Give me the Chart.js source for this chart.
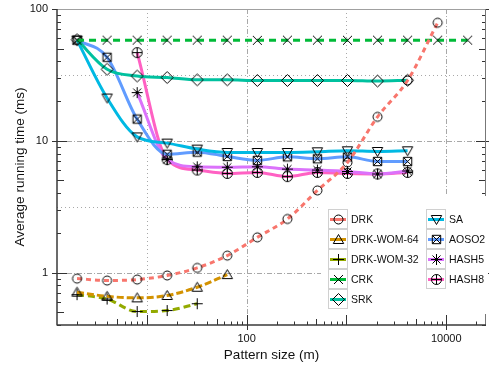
<!DOCTYPE html>
<html>
<head>
<meta charset="utf-8">
<script src="https://cdn.jsdelivr.net/npm/chart.js@4.4.1/dist/chart.umd.min.js"></script>
<style>
  body { margin: 0; background: #ffffff; }
  canvas { display: block; }
</style>
</head>
<body>
<canvas id="chart" width="495" height="368"></canvas>
<script>
Chart.defaults.font.family = '"Liberation Sans", Arial, Helvetica, sans-serif';
Chart.defaults.color = '#111111';

// pattern sizes (m)
const patternSizes = [2, 4, 8, 16, 32, 64, 128, 256, 512, 1024, 2048, 4096, 8192, 16384];

// average running time (ms), null = not measured
const drk       = [0.9, 0.87, 0.885, 0.95, 1.085, 1.345, 1.85, 2.55, 4.2, 6.85, 15.2, 28.7, 78.7, null];
const drkWom64  = [0.71, 0.66, 0.643, 0.67, 0.774, 0.965, null, null, null, null, null, null, null, null];
const drkWom32  = [0.68, 0.63, 0.506, 0.515, 0.58, null, null, null, null, null, null, null, null, null];
const crk       = [58, 58, 58, 58, 58, 58, 57.8, 58, 58, 57.9, 58, 58, 58, 58];
const srk       = [58.5, 34.9, 31, 30.2, 29, 29, 28.7, 28.7, 28.7, 28.7, 28.4, 28.8, null, null];
const sa        = [58, 21.1, 10.7, 9.6, 8.65, 8.15, 8.15, 8.15, 8.25, 8.4, 8.3, 8.4, null, null];
const aoso2     = [58, 43, 14.6, 7.9, 8.2, 7.6, 7.1, 7.55, 7.3, 7.55, 6.97, 6.97, null, null];
const hash5     = [null, null, 23.2, 7.2, 6.35, 6.3, 6.35, 6.1, 6.0, 5.85, 5.6, 5.9, null, null];
const hash8     = [null, null, 46.7, 7.2, 6.0, 5.65, 5.75, 5.35, 5.75, 5.65, 5.6, 5.75, null, null];

const seriesNames  = ['DRK', 'DRK-WOM-64', 'DRK-WOM-32', 'CRK', 'SRK', 'SA', 'AOSO2', 'HASH5', 'HASH8'];
const seriesValues = [drk, drkWom64, drkWom32, crk, srk, sa, aoso2, hash5, hash8];
const seriesColors = ['#F8766D', '#D39200', '#93AA00', '#00BA38', '#00C19F', '#00B9E3', '#619CFF', '#DB72FB', '#FF61C3'];
const seriesDashes = [[5, 4], [7, 3], [7, 4], [7, 5], [], [], [], [], []];
const seriesMarkers = ['circle', 'triangle', 'plus', 'cross', 'diamond', 'triangleDown', 'squareCross', 'asterisk', 'circlePlus'];

// axis labels and grid
const xTickLabels = [100, 10000];
const yTickLabels = [1, 10, 100];
const xGridDotted = [10, 1000];
const yGridDotted = [3.16, 31.6];

function makeMarker(kind) {
  const c = document.createElement('canvas');
  c.width = 15;
  c.height = 15;
  const g = c.getContext('2d');
  g.translate(7.5, 7.5);
  g.strokeStyle = '#000000';
  g.lineWidth = 1;
  g.beginPath();
  switch (kind) {
    case 'circle':
      g.arc(0, 0, 4.5, 0, Math.PI * 2);
      break;
    case 'triangle':
      g.moveTo(0, -5); g.lineTo(5.2, 4); g.lineTo(-5.2, 4); g.closePath();
      break;
    case 'triangleDown':
      g.moveTo(0, 5); g.lineTo(5.2, -4); g.lineTo(-5.2, -4); g.closePath();
      break;
    case 'plus':
      g.moveTo(-5.5, 0); g.lineTo(5.5, 0); g.moveTo(0, -5.5); g.lineTo(0, 5.5);
      break;
    case 'cross':
      g.moveTo(-4.5, -4.5); g.lineTo(4.5, 4.5); g.moveTo(4.5, -4.5); g.lineTo(-4.5, 4.5);
      break;
    case 'diamond':
      g.moveTo(0, -6); g.lineTo(6, 0); g.lineTo(0, 6); g.lineTo(-6, 0); g.closePath();
      break;
    case 'squareCross':
      g.rect(-4.2, -4.2, 8.4, 8.4);
      g.moveTo(-4.2, -4.2); g.lineTo(4.2, 4.2); g.moveTo(4.2, -4.2); g.lineTo(-4.2, 4.2);
      break;
    case 'asterisk':
      g.moveTo(-5.5, 0); g.lineTo(5.5, 0); g.moveTo(0, -5.5); g.lineTo(0, 5.5);
      g.moveTo(-4, -4); g.lineTo(4, 4); g.moveTo(4, -4); g.lineTo(-4, 4);
      break;
    case 'circlePlus':
      g.arc(0, 0, 5, 0, Math.PI * 2);
      g.moveTo(-5, 0); g.lineTo(5, 0); g.moveTo(0, -5); g.lineTo(0, 5);
      break;
  }
  g.stroke();
  return c;
}

const markerImages = seriesMarkers.map(makeMarker);

function line(ctx, x1, y1, x2, y2) {
  ctx.beginPath();
  ctx.moveTo(x1, y1);
  ctx.lineTo(x2, y2);
  ctx.stroke();
}

function minorValues(min, max) {
  const out = [];
  for (let d = 0.1; d <= 100000; d *= 10) {
    for (let m = 1; m <= 9; m++) {
      const v = Math.round(m * d * 1000) / 1000;
      if (v >= min && v <= max) out.push({ v: v, m: m });
    }
  }
  return out;
}

const framePlugin = {
  id: 'frame',
  beforeDatasetsDraw(chart) {
    const { ctx, chartArea: a, scales: { x, y } } = chart;
    ctx.save();
    ctx.lineWidth = 1;
    ctx.strokeStyle = '#a8a8a8';
    xTickLabels.concat(xGridDotted).forEach(v => {
      const px = Math.round(x.getPixelForValue(v)) + 0.5;
      ctx.setLineDash(xGridDotted.includes(v) ? [1, 3] : [5, 2, 1, 2]);
      line(ctx, px, a.top, px, a.bottom);
    });
    yTickLabels.concat(yGridDotted).forEach(v => {
      const py = Math.round(y.getPixelForValue(v)) + 0.5;
      ctx.setLineDash(yGridDotted.includes(v) ? [1, 3] : [5, 2, 1, 2]);
      line(ctx, a.left, py, a.right, py);
    });
    ctx.restore();
  },
  afterDatasetsDraw(chart) {
    const { ctx, chartArea: a, scales: { x, y } } = chart;
    ctx.save();
    ctx.setLineDash([]);
    ctx.lineWidth = 1;
    ctx.strokeStyle = '#333333';
    // inward ticks on bottom axis
    minorValues(x.min, x.max).forEach(t => {
      const px = Math.round(x.getPixelForValue(t.v)) + 0.5;
      if (xTickLabels.includes(t.v)) line(ctx, px, a.bottom + 5, px, a.bottom - 10);
      else if (t.m === 1) line(ctx, px, a.bottom, px, a.bottom - 10);
      else line(ctx, px, a.bottom, px, a.bottom - (t.m === 5 ? 6 : 3.5));
    });
    // inward ticks on left and right axes
    minorValues(y.min, y.max).forEach(t => {
      const py = Math.round(y.getPixelForValue(t.v)) + 0.5;
      const len = t.m === 1 ? 10 : (t.m === 5 ? 7 : 4);
      line(ctx, t.m === 1 ? a.left - 5 : a.left, py, a.left + len, py);
      line(ctx, t.m === 1 ? a.right + 3 : a.right, py, a.right - len, py);
    });
    ctx.strokeStyle = '#a0a0a0';
    line(ctx, a.left, a.top + 0.5, a.right, a.top + 0.5);
    ctx.strokeStyle = '#777777';
    line(ctx, a.right - 0.5, a.top, a.right - 0.5, a.bottom);
    ctx.strokeStyle = '#3a3a3a';
    ctx.lineWidth = 1.5;
    line(ctx, a.left, a.top, a.left, a.bottom + 0.5);
    line(ctx, a.left, a.bottom, a.right, a.bottom);
    ctx.restore();
  },
  afterDraw(chart) {
    const ctx = chart.ctx;
    ctx.save();
    ctx.fillStyle = '#ffffff';
    ctx.fillRect(321, 196, 167, 118);
    ctx.font = '10.5px "Liberation Sans", Arial, sans-serif';
    ctx.textBaseline = 'middle';
    chart.data.datasets.forEach((ds, i) => {
      const col = i < 5 ? 0 : 1;
      const row = i < 5 ? i : i - 5;
      const bx = col ? 426 : 328;
      const by = 209 + row * 20;
      ctx.setLineDash([]);
      ctx.lineWidth = 1;
      ctx.strokeStyle = '#d0d0d0';
      ctx.strokeRect(bx + 0.5, by + 0.5, 19, 19);
      ctx.lineWidth = 3;
      ctx.strokeStyle = ds.borderColor;
      line(ctx, bx + 2, by + 10.5, bx + 18, by + 10.5);
      ctx.drawImage(markerImages[i], bx + 3, by + 3);
      ctx.fillStyle = '#111111';
      ctx.fillText(ds.label, bx + 23, by + 11);
    });
    ctx.restore();
  }
};

const datasets = seriesNames.map((name, i) => ({
  label: name,
  data: patternSizes
    .map((s, j) => ({ x: s, y: seriesValues[i][j] }))
    .filter(p => p.y !== null),
  borderColor: seriesColors[i],
  backgroundColor: seriesColors[i],
  borderWidth: 3,
  borderDash: seriesDashes[i],
  pointStyle: markerImages[i],
  pointRadius: 6,
  cubicInterpolationMode: 'monotone',
  fill: false
}));

// grid drawn by the plugin; Chart.js grid kept only for the label offset
const hiddenGrid = {
  display: true,
  drawOnChartArea: false,
  drawTicks: true,
  color: 'rgba(0,0,0,0)',
  tickColor: 'rgba(0,0,0,0)'
};

new Chart(document.getElementById('chart'), {
  type: 'line',
  data: { datasets: datasets },
  plugins: [framePlugin],
  options: {
    responsive: false,
    animation: false,
    layout: { padding: { top: 8, right: 3, left: 0, bottom: 0 } },
    plugins: {
      legend: { display: false },
      tooltip: { enabled: false }
    },
    scales: {
      x: {
        type: 'logarithmic',
        min: 1.26,
        max: 25000,
        grid: Object.assign({}, hiddenGrid, { tickLength: 7 }),
        border: { display: false },
        afterBuildTicks: s => { s.ticks = xTickLabels.map(v => ({ value: v })); },
        afterFit: s => { s.height = 43; },
        ticks: {
          autoSkip: false,
          maxRotation: 0,
          padding: 0,
          color: '#111111',
          font: { size: 11 },
          callback: v => String(v)
        },
        title: {
          display: true,
          text: 'Pattern size (m)',
          color: '#111111',
          font: { size: 13.5 },
          padding: { top: 0, bottom: 5 }
        }
      },
      y: {
        type: 'logarithmic',
        min: 0.4,
        max: 100,
        grid: Object.assign({}, hiddenGrid, { tickLength: 9 }),
        border: { display: false },
        afterBuildTicks: s => { s.ticks = yTickLabels.map(v => ({ value: v })); },
        afterFit: s => { s.width = 57; },
        ticks: {
          autoSkip: false,
          padding: 0,
          color: '#111111',
          font: { size: 11 },
          callback: v => String(v)
        },
        title: {
          display: true,
          text: 'Average running time (ms)',
          color: '#111111',
          font: { size: 13.5 },
          padding: { top: 12, bottom: 0 }
        }
      }
    }
  }
});
</script>
</body>
</html>
